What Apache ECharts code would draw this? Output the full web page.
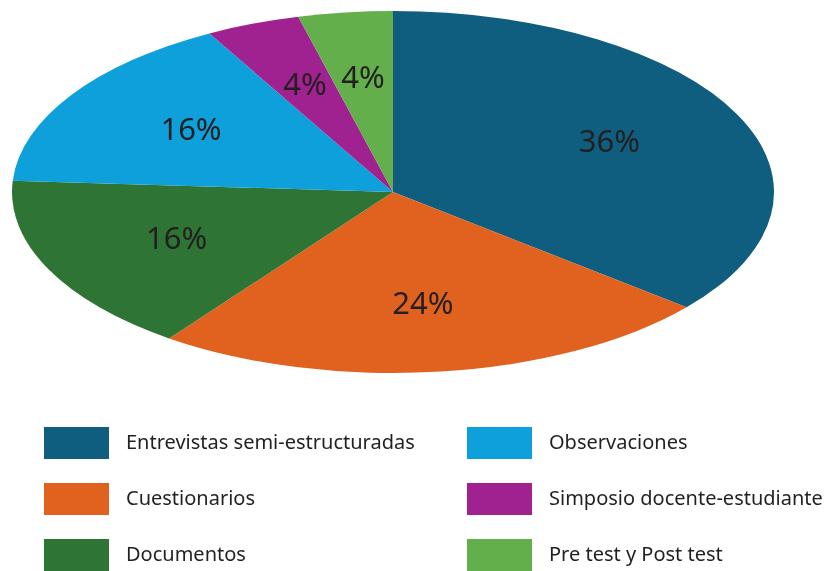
<!DOCTYPE html>
<html><head><meta charset="utf-8">
<script src="https://cdn.jsdelivr.net/npm/echarts@6/dist/echarts.min.js"></script>
<style>
html,body{margin:0;padding:0;background:#fff;}
#wrap{position:relative;width:835px;height:571px;overflow:hidden;background:#fff;}
#pie{position:absolute;left:0;top:0;width:835px;height:800px;transform-origin:0 0;}
#overlay{position:absolute;left:0;top:0;width:835px;height:571px;}
</style></head><body>
<div id="wrap"><div id="pie"></div><div id="overlay"></div></div>
<script>
// ---- data ----
const categories = ['Entrevistas semi-estructuradas','Cuestionarios','Documentos','Observaciones','Simposio docente-estudiante','Pre test y Post test'];
const counts = [9, 6, 4, 4, 1, 1];
const colors = ['#0f5e80', '#e1621f', '#2e7535', '#0ea0da', '#a02290', '#62af4b'];
const legendLeftCol = categories.slice(0, 3);
const legendRightCol = categories.slice(3);

// ---- layout ----
const CX = 393, CY = 192, RX = 381, RY = 181;
const K = RY / RX;            // vertical squash of the pie
const LABEL_F = 0.62;         // label distance as fraction of radius
const FONT = "'Noto Sans', sans-serif";
const TXT = '#231f20';

const pieEl = document.getElementById('pie');
pieEl.style.transform = 'scaleY(' + K + ')';

const chartA = echarts.init(pieEl, null, {renderer: 'svg'});
chartA.setOption({
  animation: false,
  series: [{
    type: 'pie',
    center: [CX, CY / K],
    radius: RX,
    startAngle: 90,
    clockwise: true,
    silent: true,
    label: {show: false},
    labelLine: {show: false},
    data: categories.map((n, i) => ({name: n, value: counts[i], itemStyle: {color: colors[i]}}))
  }]
});

const chartB = echarts.init(document.getElementById('overlay'));
function legendCfg(names, left) {
  return {
    orient: 'vertical', left: left, top: 427, height: 200, padding: 0, itemGap: 24,
    itemWidth: 65, itemHeight: 32, icon: 'rect', selectedMode: false,
    textStyle: {fontSize: 20, color: TXT, fontFamily: FONT, padding: [0, 0, 0, 12]},
    data: names.map(n => ({name: n, itemStyle: {color: colors[categories.indexOf(n)]}}))
  };
}
chartB.setOption({
  animation: false,
  backgroundColor: 'transparent',
  legend: [legendCfg(legendLeftCol, 44), legendCfg(legendRightCol, 467)],
  series: [{
    type: 'pie',
    center: [CX, CY],
    radius: 2 * LABEL_F * RX,
    startAngle: 90,
    clockwise: true,
    silent: true,
    percentPrecision: 0,
    itemStyle: {color: 'rgba(0,0,0,0)'},
    label: {show: true, position: 'inside', formatter: '{d}%', fontSize: 31, color: TXT, fontFamily: FONT},
    labelLine: {show: false},
    labelLayout: function (p) {
      const r = p.labelRect;
      const mx = r.x + r.width / 2, my = r.y + r.height / 2;
      return {x: mx, y: CY + (my - CY) * K};
    },
    data: categories.map((n, i) => ({name: n, value: counts[i]}))
  }]
});
</script>
</body></html>
